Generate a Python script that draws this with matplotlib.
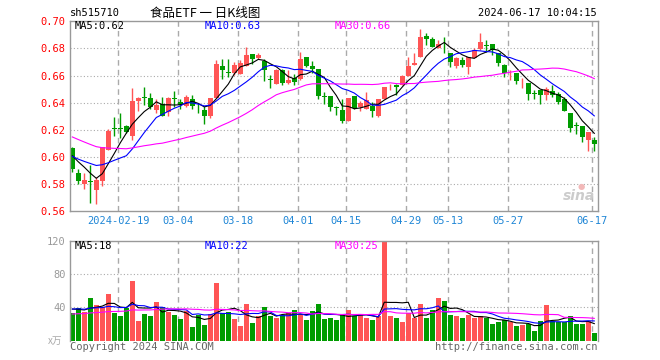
import numpy as np
import matplotlib.pyplot as plt

plt.rcParams['font.family'] = ['DejaVu Sans Mono', 'Noto Sans CJK SC']

# daily K data, 2024-01-30 .. 2024-06-17
opens = [0.6069, 0.5881, 0.5798, 0.5822, 0.5760, 0.5825, 0.6054, 0.6212, 0.6213, 0.6232,
         0.6153, 0.6410, 0.6437, 0.6432, 0.6346, 0.6390, 0.6333, 0.6430, 0.6407, 0.6375,
         0.6425, 0.6353, 0.6346, 0.6299, 0.6437, 0.6669, 0.6624, 0.6618, 0.6615, 0.6672,
         0.6758, 0.6731, 0.6710, 0.6572, 0.6541, 0.6644, 0.6546, 0.6582, 0.6575, 0.6736,
         0.6670, 0.6647, 0.6444, 0.6448, 0.6362, 0.6343, 0.6262, 0.6448, 0.6365, 0.6355,
         0.6378, 0.6299, 0.6430, 0.6520, 0.6528, 0.6528, 0.6598, 0.6675, 0.6736, 0.6894,
         0.6869, 0.6800, 0.6826, 0.6770, 0.6672, 0.6714, 0.6664, 0.6726, 0.6795, 0.6822,
         0.6832, 0.6763, 0.6677, 0.6623, 0.6620, 0.6552, 0.6546, 0.6468, 0.6496, 0.6454,
         0.6484, 0.6462, 0.6430, 0.6323, 0.6233, 0.6232, 0.6126, 0.6128]
closes = [0.5909, 0.5825, 0.5832, 0.5818, 0.5832, 0.6077, 0.6195, 0.6210, 0.6210, 0.6185,
          0.6410, 0.6435, 0.6435, 0.6370, 0.6385, 0.6301, 0.6432, 0.6428, 0.6380, 0.6440,
          0.6375, 0.6351, 0.6301, 0.6435, 0.6684, 0.6644, 0.6622, 0.6677, 0.6694, 0.6753,
          0.6721, 0.6752, 0.6640, 0.6570, 0.6642, 0.6546, 0.6565, 0.6556, 0.6724, 0.6667,
          0.6650, 0.6450, 0.6442, 0.6366, 0.6361, 0.6262, 0.6432, 0.6358, 0.6395, 0.6422,
          0.6337, 0.6430, 0.6514, 0.6523, 0.6516, 0.6597, 0.6670, 0.6692, 0.6881, 0.6871,
          0.6812, 0.6832, 0.6824, 0.6701, 0.6731, 0.6677, 0.6738, 0.6788, 0.6844, 0.6820,
          0.6788, 0.6694, 0.6620, 0.6625, 0.6560, 0.6554, 0.6467, 0.6466, 0.6454, 0.6504,
          0.6459, 0.6405, 0.6338, 0.6215, 0.6231, 0.6146, 0.6183, 0.6096]
highs = [0.6075, 0.5914, 0.5881, 0.5941, 0.5852, 0.6077, 0.6210, 0.6296, 0.6326, 0.6239,
         0.6506, 0.6440, 0.6514, 0.6469, 0.6425, 0.6440, 0.6442, 0.6486, 0.6425, 0.6454,
         0.6454, 0.6400, 0.6375, 0.6435, 0.6716, 0.6719, 0.6719, 0.6701, 0.6712, 0.6810,
         0.6758, 0.6768, 0.6721, 0.6602, 0.6650, 0.6650, 0.6640, 0.6610, 0.6775, 0.6736,
         0.6709, 0.6647, 0.6479, 0.6448, 0.6375, 0.6430, 0.6432, 0.6448, 0.6415, 0.6480,
         0.6402, 0.6430, 0.6514, 0.6541, 0.6541, 0.6602, 0.6738, 0.6763, 0.6943, 0.6911,
         0.6886, 0.6862, 0.6886, 0.6770, 0.6738, 0.6738, 0.6738, 0.6800, 0.6911, 0.6862,
         0.6832, 0.6763, 0.6689, 0.6644, 0.6620, 0.6585, 0.6546, 0.6491, 0.6496, 0.6516,
         0.6528, 0.6480, 0.6442, 0.6323, 0.6257, 0.6232, 0.6183, 0.6146]
lows = [0.5886, 0.5798, 0.5763, 0.5659, 0.5657, 0.5790, 0.6054, 0.6153, 0.6141, 0.6178,
        0.6123, 0.6341, 0.6380, 0.6351, 0.6321, 0.6301, 0.6301, 0.6370, 0.6351, 0.6370,
        0.6351, 0.6326, 0.6242, 0.6291, 0.6437, 0.6578, 0.6590, 0.6605, 0.6615, 0.6672,
        0.6689, 0.6719, 0.6560, 0.6511, 0.6541, 0.6530, 0.6540, 0.6530, 0.6570, 0.6660,
        0.6620, 0.6430, 0.6393, 0.6336, 0.6306, 0.6249, 0.6262, 0.6351, 0.6336, 0.6355,
        0.6294, 0.6294, 0.6430, 0.6491, 0.6454, 0.6528, 0.6598, 0.6675, 0.6736, 0.6825,
        0.6812, 0.6800, 0.6770, 0.6664, 0.6657, 0.6664, 0.6615, 0.6726, 0.6790, 0.6775,
        0.6751, 0.6669, 0.6590, 0.6570, 0.6541, 0.6511, 0.6422, 0.6425, 0.6393, 0.6417,
        0.6442, 0.6393, 0.6338, 0.6183, 0.6170, 0.6109, 0.6042, 0.6042]
volumes = [32.8, 39.2, 34.4, 51.2, 42.8, 40.0, 56.0, 33.6, 29.6, 39.2,
           71.6, 23.6, 32.0, 29.6, 46.4, 40.0, 34.4, 30.8, 26.0, 35.6,
           16.4, 30.8, 18.8, 32.0, 69.2, 33.2, 34.4, 26.0, 17.6, 44.0,
           21.2, 29.6, 40.0, 29.6, 27.2, 30.8, 33.2, 36.8, 30.8, 24.8,
           35.6, 44.0, 26.0, 27.2, 24.8, 30.8, 36.8, 29.6, 30.8, 27.2,
           24.8, 29.6, 118.4, 29.6, 27.2, 22.4, 32.8, 27.2, 44.0, 27.2,
           36.8, 51.2, 47.6, 30.8, 29.6, 27.2, 30.8, 27.2, 29.6, 27.2,
           20.0, 22.4, 24.8, 22.4, 17.6, 18.8, 20.0, 11.6, 23.6, 42.8,
           23.6, 22.4, 22.4, 29.6, 20.0, 20.0, 23.6, 9.2]

# sessions before the window, only feed the moving averages
prior_closes = [0.640, 0.638, 0.635, 0.633, 0.630, 0.628, 0.627, 0.625, 0.624, 0.622,
                0.620, 0.619, 0.618, 0.616, 0.615, 0.613, 0.612, 0.610, 0.608, 0.606,
                0.603, 0.600, 0.597, 0.598, 0.602, 0.605, 0.603, 0.604, 0.602]
prior_volumes = [28, 31, 26, 30, 27, 33, 29, 25, 30, 28, 32, 27, 29, 31, 26,
                 28, 30, 29, 31, 30, 36, 40, 37, 39, 38, 41, 38, 40, 38]

tick_idx = [8, 18, 28, 38, 46, 56, 63, 73, 87]
tick_text = ['2024-02-19', '03-04', '03-18', '04-01', '04-15',
             '04-29', '05-13', '05-27', '06-17']

RED = '#ff5555'
GREEN = '#009c00'
GRID = '#aaaaaa'


def moving_avg(prior, vals, n):
    full = np.array(prior + vals, dtype=float)
    ma = np.convolve(full, np.ones(n) / n, mode='valid')
    return ma[-len(vals):]


o, c, h, l = map(np.array, (opens, closes, highs, lows))
vol = np.array(volumes)
x = np.arange(len(c))
up = c >= o
colors = np.where(up, RED, GREEN)

fig = plt.figure(figsize=(6.6, 3.6), dpi=100)
W, H = 660, 360
ax = fig.add_axes([70.3 / W, 1 - 211.3 / H, 527.4 / W, 190 / H])
axv = fig.add_axes([70.3 / W, 1 - 340.7 / H, 527.4 / W, 100 / H])

# candles
ax.vlines(x, l, h, colors=colors, lw=1)
body = np.maximum(np.abs(c - o), 0.0004)
ax.bar(x, body, bottom=np.minimum(o, c), width=0.78, color=colors, lw=0)

ax.plot(x, moving_avg(prior_closes, closes, 5), color='black', lw=0.8)
ax.plot(x, moving_avg(prior_closes, closes, 10), color='#0000ff', lw=0.8)
ax.plot(x, moving_avg(prior_closes, closes, 30), color='#ff00ff', lw=0.8)

# volume
axv.bar(x, vol, width=0.78, color=colors, lw=0)
axv.plot(x, moving_avg(prior_volumes, volumes, 5), color='black', lw=0.8)
axv.plot(x, moving_avg(prior_volumes, volumes, 10), color='#0000ff', lw=0.8)
axv.plot(x, moving_avg(prior_volumes, volumes, 30), color='#ff00ff', lw=0.8)

for a in (ax, axv):
    a.set_xlim(-0.333, 87.57)
    for t in tick_idx:
        a.axvline(t - 0.333, color=GRID, lw=1, ls=(0, (4, 3)), zorder=0)
    a.set_xticks([])
    for s in a.spines.values():
        s.set_color('#999999')
        s.set_linewidth(1)
    a.tick_params(length=0)

ax.set_ylim(0.56, 0.70)
ax.set_yticks(np.arange(0.56, 0.701, 0.02))
ax.set_yticklabels(['%.2f' % v for v in np.arange(0.56, 0.701, 0.02)],
                   color='red', fontsize=7.5)
for v in np.arange(0.58, 0.69, 0.02):
    ax.axhline(v, color=GRID, lw=0.8, ls=(0, (1, 2)), zorder=0)

axv.set_ylim(0, 120)
axv.set_yticks([40, 80, 120])
axv.set_yticklabels(['40', '80', '120'], color='#999999', fontsize=7.5)
for v in (40, 80):
    axv.axhline(v, color=GRID, lw=0.8, ls=(0, (1, 2)), zorder=0)
axv.spines['bottom'].set_visible(False)

for t, s in zip(tick_idx, tick_text):
    fig.text((72.3 + 6 * t - 2) / W, 1 - 221 / H, s, color='#1f86d6',
             fontsize=7.5, ha='center', va='center')


def ftext(px, py, s, **kw):
    fig.text(px / W, 1 - py / H, s, va='center', **kw)


ftext(70, 13, 'sh515710', fontsize=7.5)
ftext(150, 13, '食品ETF 一 日K线图', fontsize=9,
      family=['Noto Sans CJK SC', 'DejaVu Sans'])
ftext(597, 13, '2024-06-17 10:04:15', fontsize=7.5, ha='right')

ftext(75, 26, 'MA5:0.62', fontsize=7.5, color='black')
ftext(205, 26, 'MA10:0.63', fontsize=7.5, color='#0000ff')
ftext(335, 26, 'MA30:0.66', fontsize=7.5, color='#ff00ff')
ftext(75, 246, 'MA5:18', fontsize=7.5, color='black')
ftext(205, 246, 'MA10:22', fontsize=7.5, color='#0000ff')
ftext(335, 246, 'MA30:25', fontsize=7.5, color='#ff00ff')

ftext(48, 341, 'x万', fontsize=7, color='#aaaaaa',
      family=['Noto Sans CJK SC', 'DejaVu Sans'])
ftext(70, 347, 'Copyright 2024 SINA.COM', fontsize=7.5, color='#666666')
ftext(597, 347, 'http://finance.sina.com.cn', fontsize=7.5, color='#666666',
      ha='right')

# faint sina watermark
ftext(595, 196, 'sina', fontsize=10, color='#cccccc', ha='right',
      style='italic', weight='bold', family='DejaVu Sans')
ftext(581, 186, '●', fontsize=6, color='#f2b8b8', ha='center',
      family='DejaVu Sans')

fig.savefig('out.png', dpi=100)
